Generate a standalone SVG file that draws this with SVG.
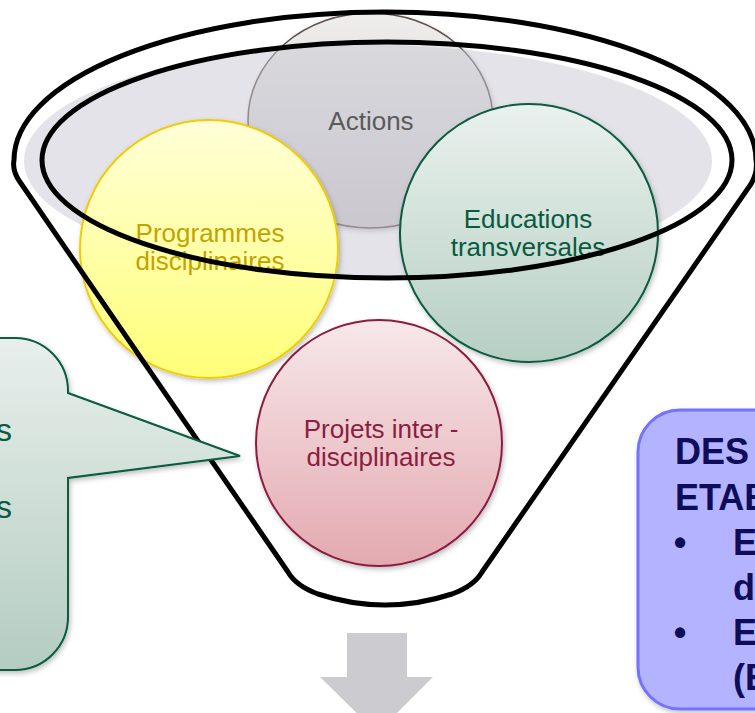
<svg xmlns="http://www.w3.org/2000/svg" width="755" height="713" viewBox="0 0 755 713">
<defs>
<linearGradient id="gAct" x1="0" y1="0" x2="0" y2="1"><stop offset="0" stop-color="#efeeec"/><stop offset="1" stop-color="#cdc9ca"/></linearGradient>
<linearGradient id="gProg" x1="0" y1="0" x2="0" y2="1"><stop offset="0" stop-color="#ffffd8"/><stop offset="1" stop-color="#ffff78"/></linearGradient>
<linearGradient id="gEdu" x1="0" y1="0" x2="0" y2="1"><stop offset="0" stop-color="#eaf1ee"/><stop offset="1" stop-color="#b6cfc4"/></linearGradient>
<linearGradient id="gProj" x1="0" y1="0" x2="0" y2="1"><stop offset="0" stop-color="#f7e8ea"/><stop offset="1" stop-color="#e3a9b0"/></linearGradient>
<linearGradient id="gCall" x1="0" y1="0" x2="0" y2="1"><stop offset="0" stop-color="#e8efec"/><stop offset="1" stop-color="#b4ccc1"/></linearGradient>
<filter id="sh" x="-20%" y="-20%" width="140%" height="140%"><feDropShadow dx="1.5" dy="2.5" stdDeviation="2.5" flood-color="#000" flood-opacity="0.25"/></filter>
</defs>
<style>
.lbl{font-family:"Liberation Sans",Arial,sans-serif;font-size:26px;text-anchor:middle}
.box{font-family:"Liberation Sans",Arial,sans-serif;font-size:36px;font-weight:bold;fill:#0d0d5a}
.line{fill:none;stroke:#000;stroke-width:5;stroke-linejoin:round}
</style>
<g id="actions">
<ellipse cx="370.5" cy="120.5" rx="122.5" ry="107.5" fill="url(#gAct)" stroke="#5e4f49" stroke-width="1.5" filter="url(#sh)"/>
</g>
<ellipse id="rim-fill" cx="368" cy="161" rx="344" ry="116" fill="#c8c8d4" fill-opacity="0.5"/>
<text class="lbl" x="371" y="130" fill="#5a5a5a">Actions</text>
<g id="programmes">
<circle cx="209" cy="249" r="129" fill="url(#gProg)" stroke="#f2cc00" stroke-width="2" filter="url(#sh)"/>
<text class="lbl" x="210" y="242" fill="#c4a200">Programmes</text>
<text class="lbl" x="210" y="270" fill="#c4a200">disciplinaires</text>
</g>
<g id="educations">
<circle cx="529" cy="233" r="129" fill="url(#gEdu)" stroke="#075b3f" stroke-width="2" filter="url(#sh)"/>
<text class="lbl" x="528" y="228" fill="#075b3f">Educations</text>
<text class="lbl" x="528" y="256" fill="#075b3f">transversales</text>
</g>
<g id="projets">
<circle cx="379" cy="443" r="123" fill="url(#gProj)" stroke="#8b1e3f" stroke-width="2" filter="url(#sh)"/>
<text class="lbl" x="381" y="438" fill="#8b1e3f">Projets inter -</text>
<text class="lbl" x="381" y="466" fill="#8b1e3f">disciplinaires</text>
</g>
<g id="funnel">
<ellipse class="line" cx="387" cy="160" rx="345" ry="118"/>
<path class="line" d="M 14,160 A 371 148 0 0 1 756,160 Q 758,172 751,184 L 482,572 Q 474,586 452,594 Q 385,616 318,594 Q 296,586 288,572 L 20,182 Q 12,171 14,160 Z"/>
</g>
<g id="callout">
<path d="M -20,338 L 15,338 A 53 53 0 0 1 68,391 L 68,393 L 240,456 L 68,478 L 68,617 A 53 53 0 0 1 15,670 L -20,670 Z" fill="url(#gCall)" stroke="#075b3f" stroke-width="2" filter="url(#sh)"/>
<text x="12" y="441" font-family="Liberation Sans, Arial, sans-serif" font-size="32" fill="#0b5a40" text-anchor="end">s</text>
<text x="12" y="518" font-family="Liberation Sans, Arial, sans-serif" font-size="32" fill="#0b5a40" text-anchor="end">s</text>
</g>
<g id="etablissements">
<rect x="638" y="410" width="160" height="299" rx="42" fill="#b3b3ff" stroke="#7373ff" stroke-width="3" filter="url(#sh)"/>
<text class="box" x="675" y="464">DES</text>
<text class="box" x="675" y="510">ETAB</text>
<text class="box" x="680" y="555" text-anchor="middle">•</text>
<text class="box" x="733" y="555">E</text>
<text class="box" x="733" y="600">d</text>
<text class="box" x="680" y="645" text-anchor="middle">•</text>
<text class="box" x="733" y="645">E</text>
<text class="box" x="733" y="690">(E</text>
</g>
<g id="connectors">
<polygon points="347,633 407,633 407,677 433,677 377,733 320,677 347,677" fill="#cbcbd0"/>
</g>
</svg>
